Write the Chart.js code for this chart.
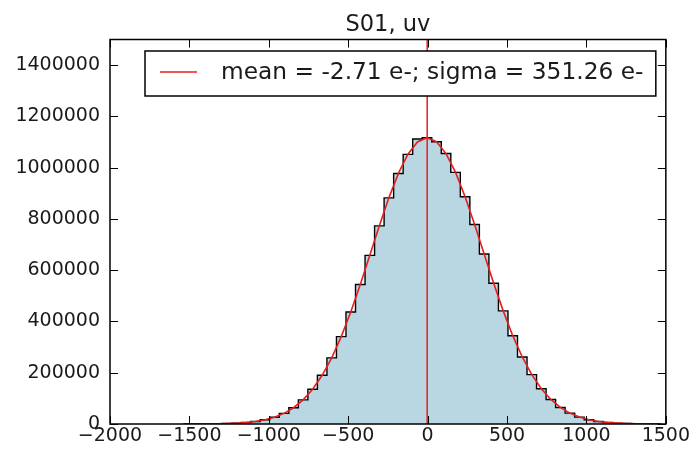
<!DOCTYPE html>
<html>
<head>
<meta charset="utf-8">
<script src="https://cdn.jsdelivr.net/npm/chart.js@4.4.0/dist/chart.umd.min.js"></script>
<style>
html,body{margin:0;padding:0;background:#fff;}
#wrap{width:691px;height:453px;position:relative;}
</style>
</head>
<body>
<div id="wrap"><canvas id="c"></canvas></div>
<script>
const chartTitle = 'S01, uv';
const legendText = 'mean = -2.71 e-; sigma = 351.26 e-';
const meanValue = -2.71;

const binEdges = [-1534,-1474,-1414,-1354,-1294,-1234,-1174,-1114,-1054,-994,-934,-874,-814,-754,-694,-634,-574,-514,-454,-394,-334,-274,-214,-154,-94,-34,26,86,146,206,266,326,386,446,506,566,626,686,746,806,866,926,986,1046,1106,1166,1226,1286,1346,1406,1466];

const binCounts = [110,260,480,960,1800,3200,5700,9800,16300,26400,41600,63500,94000,135800,190000,258000,340800,437000,544000,658000,773000,882000,977500,1052000,1112000,1117000,1101000,1055000,981500,886500,778000,663200,549000,441300,344500,261400,192500,137700,95700,64600,42300,26900,16700,10000,5800,3300,1800,970,500,250];

const binCenters = [-1504,-1444,-1384,-1324,-1264,-1204,-1144,-1084,-1024,-964,-904,-844,-784,-724,-664,-604,-544,-484,-424,-364,-304,-244,-184,-124,-64,-4,56,116,176,236,296,356,416,476,536,596,656,716,776,836,896,956,1016,1076,1136,1196,1256,1316,1376,1436];

const fitValues = [120,246,490,945,1771,3223,5694,9777,16305,26411,41538,63446,94141,135671,189901,258094,340730,436915,544113,658181,773221,882251,977710,1052359,1100133,1117000,1101507,1055000,981400,886690,778080,663150,548920,441330,344580,261360,192540,137720,95680,64570,42330,26945,16658,10000,5833,3304,1818,971,504,254];

const xTicks = [-2000,-1500,-1000,-500,0,500,1000,1500];
const yTicks = [0,200000,400000,600000,800000,1000000,1200000,1400000];

const histPoints = [{x: binEdges[0], y: 0}];
binCounts.forEach((v, i) => histPoints.push({x: binEdges[i], y: v}));
histPoints.push({x: binEdges[binEdges.length - 1], y: 0});

const fitPoints = binCenters.map((c, i) => ({x: c, y: fitValues[i]}));

const FONT = 'DejaVu Sans';
const TXT = '#1a1a1a';
const RED = 'rgb(230,30,30)';

const framePlugin = {
  id: 'frame',
  afterDatasetsDraw(chart) {
    const {ctx, chartArea: a, scales} = chart;
    ctx.save();
    ctx.strokeStyle = '#000';
    ctx.lineWidth = 1;
    const L = 8;
    ctx.beginPath();
    xTicks.forEach(v => {
      const px = Math.round(scales.x.getPixelForValue(v)) + 0.5;
      ctx.moveTo(px, a.bottom); ctx.lineTo(px, a.bottom - L);
      ctx.moveTo(px, a.top); ctx.lineTo(px, a.top + L);
    });
    yTicks.forEach(v => {
      const py = Math.round(scales.y.getPixelForValue(v)) + 0.5;
      ctx.moveTo(a.left, py); ctx.lineTo(a.left + L, py);
      ctx.moveTo(a.right, py); ctx.lineTo(a.right - L, py);
    });
    ctx.stroke();
    ctx.lineWidth = 1.5;
    ctx.strokeRect(a.left, a.top, a.right - a.left, a.bottom - a.top);
    ctx.restore();
  },
  afterDraw(chart) {
    const {ctx, chartArea: a} = chart;
    ctx.save();
    // title
    ctx.fillStyle = TXT;
    ctx.font = '22.5px "' + FONT + '"';
    ctx.textAlign = 'center';
    ctx.textBaseline = 'alphabetic';
    ctx.fillText(chartTitle, (a.left + a.right) / 2, a.top - 9);
    // legend
    const bx = a.left + 35, by = a.top + 11.5, bw = a.right - 10 - bx, bh = 45;
    ctx.fillStyle = '#fff';
    ctx.fillRect(bx, by, bw, bh);
    ctx.strokeStyle = '#000';
    ctx.lineWidth = 1.5;
    ctx.strokeRect(bx, by, bw, bh);
    ctx.strokeStyle = RED;
    ctx.lineWidth = 1.5;
    ctx.beginPath();
    ctx.moveTo(bx + 15, by + 21); ctx.lineTo(bx + 52, by + 21);
    ctx.stroke();
    ctx.fillStyle = TXT;
    ctx.font = '23.3px "' + FONT + '"';
    ctx.textBaseline = 'middle';
    ctx.textAlign = 'left';
    ctx.fillText(legendText, bx + 76, by + 22);
    ctx.restore();
  }
};

new Chart(document.getElementById('c'), {
  type: 'line',
  data: {
    datasets: [
      {
        label: 'mean',
        data: [{x: meanValue, y: 0}, {x: meanValue, y: 1500000}],
        borderColor: RED,
        borderWidth: 1.5,
        pointRadius: 0,
        fill: false,
        order: 1
      },
      {
        label: legendText,
        data: fitPoints,
        borderColor: RED,
        borderWidth: 1.6,
        pointRadius: 0,
        tension: 0,
        fill: false,
        order: 2
      },
      {
        label: 'histogram',
        data: histPoints,
        stepped: 'before',
        borderColor: '#000',
        borderWidth: 1.4,
        backgroundColor: '#b9d7e3',
        pointRadius: 0,
        fill: 'origin',
        order: 3
      }
    ]
  },
  options: {
    responsive: true,
    maintainAspectRatio: false,
    animation: false,
    events: [],
    layout: {padding: {left: 0, right: 25, top: 39.5, bottom: 0}},
    plugins: {
      legend: {display: false},
      tooltip: {enabled: false},
      title: {display: false}
    },
    scales: {
      x: {
        type: 'linear',
        min: -2000,
        max: 1500,
        afterBuildTicks: s => { s.ticks = xTicks.map(v => ({value: v})); },
        afterFit: s => { s.height = 29; },
        grid: {display: false, drawTicks: false},
        border: {display: false},
        ticks: {
          autoSkip: false,
          maxRotation: 0,
          padding: 1,
          color: TXT,
          font: {family: FONT, size: 19},
          callback: v => (v < 0 ? '\u2212' + Math.abs(v) : String(v))
        }
      },
      y: {
        type: 'linear',
        min: 0,
        max: 1500000,
        afterBuildTicks: s => { s.ticks = yTicks.map(v => ({value: v})); },
        afterFit: s => { s.width = 110; },
        grid: {display: false, drawTicks: false},
        border: {display: false},
        ticks: {
          padding: 10,
          color: TXT,
          font: {family: FONT, size: 19},
          callback: v => String(v)
        }
      }
    }
  },
  plugins: [framePlugin]
});
</script>
</body>
</html>
